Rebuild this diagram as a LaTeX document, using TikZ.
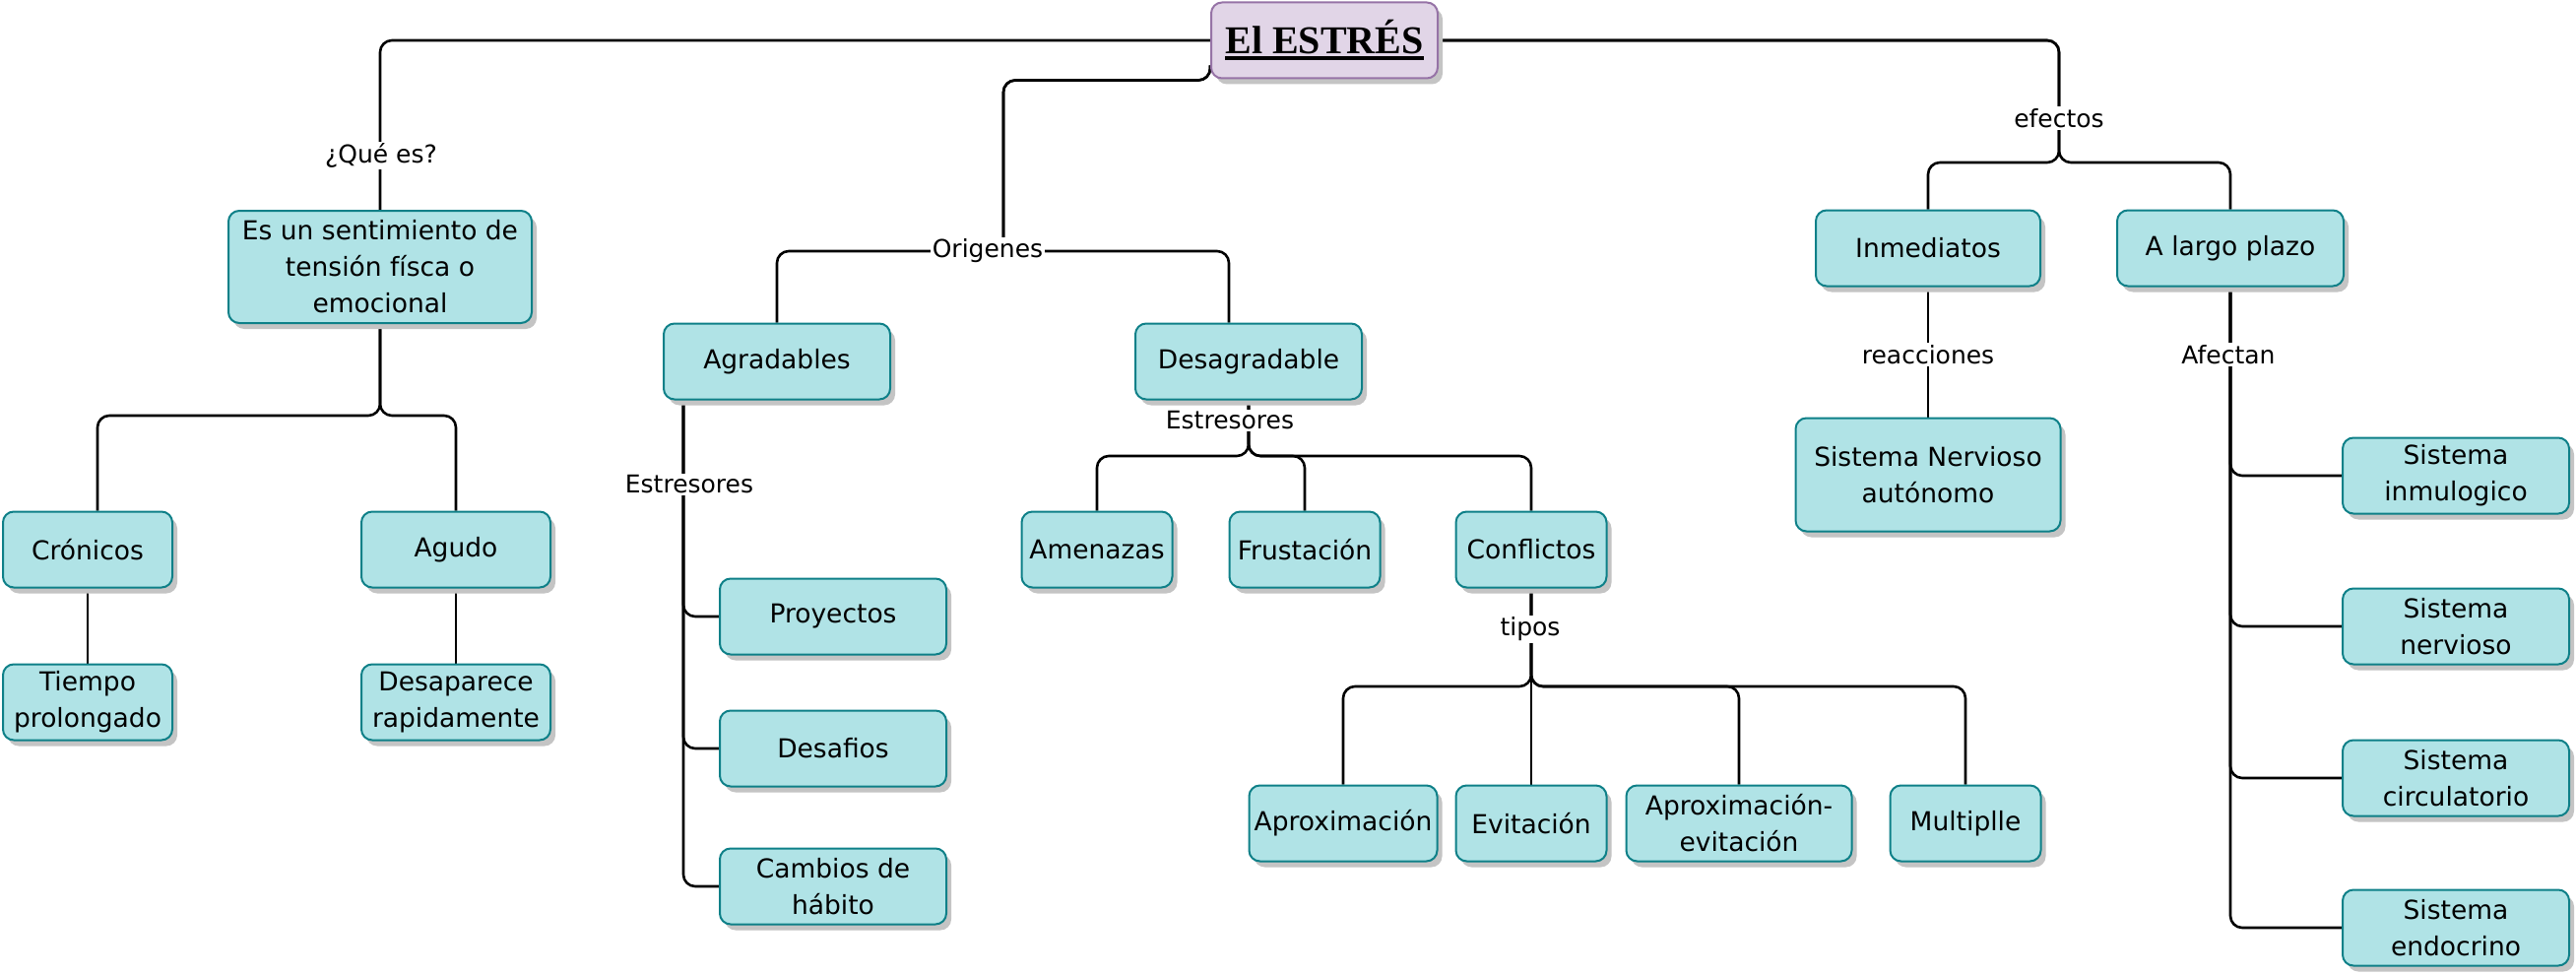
\documentclass[tikz,border=0pt]{standalone}
\usepackage{fontspec}
\setmainfont{DejaVu Sans}
\newfontfamily\rootfont{Liberation Serif}
\usetikzlibrary{shadows}
\definecolor{tealfill}{HTML}{B0E3E6}
\definecolor{tealdraw}{HTML}{0E8088}
\definecolor{purfill}{HTML}{E1D5E7}
\definecolor{purdraw}{HTML}{9673A6}
\definecolor{shadowgray}{HTML}{C4C4C4}
\pgfdeclarelayer{bg}
\pgfsetlayers{bg,main}
\tikzset{
  box/.style={draw=tealdraw, fill=tealfill, line width=2pt, rounded corners=11pt,
    align=center, inner sep=2pt, minimum height=77pt,
    font=\fontsize{26.5}{37}\selectfont,
    drop shadow={shadow xshift=5pt, shadow yshift=-6pt, fill=shadowgray, opacity=1}},
  lbl/.style={fill=white, inner sep=2pt, font=\fontsize{25}{30}\selectfont},
  conn/.style={line width=2.6pt, rounded corners=12pt},
}
\begin{document}
\begin{tikzpicture}[x=1pt,y=-1pt]
\useasboundingbox (0,0) rectangle (2616,990);
% root
\node[box, minimum width=230pt, draw=purdraw, fill=purfill] (root) at (1345,41)
  {\vtop{\hbox{\fontsize{40}{44}\rootfont\bfseries El ESTRÉS}\kern2pt\hrule height 4pt}};
% left branch
\node[lbl] (q) at (387,158) {¿Qué es?};
\node[box, minimum width=308pt, minimum height=114pt] (def) at (386,271) {Es un sentimiento de\\tensión físca o\\emocional};
\node[box, minimum width=172pt] (cron) at (89,558) {Crónicos};
\node[box, minimum width=192pt] (agudo) at (463,558) {Agudo};
\node[box, minimum width=172pt] (tiempo) at (89,713) {Tiempo\\prolongado};
\node[box, minimum width=192pt] (desap) at (463,713) {Desaparece\\rapidamente};
% origenes
\node[lbl] (orig) at (1003,255) {Origenes};
\node[box, minimum width=230pt] (agrad) at (789,367) {Agradables};
\node[box, minimum width=230pt] (desag) at (1268,367) {Desagradable};
\node[lbl] (estr1) at (700,492) {Estresores};
\node[box, minimum width=230pt] (proy) at (846,626) {Proyectos};
\node[box, minimum width=230pt] (desaf) at (846,760) {Desafios};
\node[box, minimum width=230pt] (camb) at (846,900) {Cambios de\\hábito};
\node[lbl] (estr2) at (1249,427) {Estresores};
\node[box, minimum width=153pt] (amen) at (1114,558) {Amenazas};
\node[box, minimum width=153pt] (frus) at (1325,558) {Frustación};
\node[box, minimum width=153pt] (conf) at (1555,558) {Conflictos};
\node[lbl] (tipos) at (1554,639) {tipos};
\node[box, minimum width=191pt] (aprox) at (1364,836) {Aproximación};
\node[box, minimum width=153pt] (evit) at (1555,836) {Evitación};
\node[box, minimum width=229pt] (apev) at (1766,836) {Aproximación-\\evitación};
\node[box, minimum width=153pt] (mult) at (1996,836) {Multiplle};
% efectos
\node[lbl] (efec) at (2091,120) {efectos};
\node[box, minimum width=228pt] (inmed) at (1958,252) {Inmediatos};
\node[box, minimum width=230pt] (largo) at (2265,252) {A largo plazo};
\node[lbl] (reac) at (1958,360) {reacciones};
\node[box, minimum width=269pt, minimum height=115pt] (sna) at (1958,482) {Sistema Nervioso\\autónomo};
\node[lbl] (afec) at (2263,360) {Afectan};
\node[box, minimum width=230pt] (sis1) at (2494,483) {Sistema\\inmulogico};
\node[box, minimum width=230pt] (sis2) at (2494,636) {Sistema\\nervioso};
\node[box, minimum width=230pt] (sis3) at (2494,790) {Sistema\\circulatorio};
\node[box, minimum width=230pt] (sis4) at (2494,942) {Sistema\\endocrino};
\begin{pgfonlayer}{bg}
\fill[white] (0,0) rectangle (2616,990);
\draw[conn] (root.west) -| (def.north);
\draw[conn] (def.south) -- (386,422) -| ([xshift=10pt]cron.north);
\draw[conn] (def.south) -- (386,422) -| (agudo.north);
\draw[conn] (cron.south) -- (tiempo.north);
\draw[conn] (agudo.south) -- (desap.north);
\draw[conn] ([yshift=14pt]root.south west) -- ([yshift=-1pt]root.south west) -| (1019,255) -| (agrad.north);
\draw[conn] ([yshift=14pt]root.south west) -- ([yshift=-1pt]root.south west) -| (1019,255) -| ([xshift=-20pt]desag.north);
\draw[conn] ([xshift=-95pt]agrad.south) |- (proy.west);
\draw[conn] ([xshift=-95pt]agrad.south) |- (desaf.west);
\draw[conn] ([xshift=-95pt]agrad.south) |- (camb.west);
\draw[conn] (desag.south) -- (1268,463) -| (amen.north);
\draw[conn] (desag.south) -- (1268,463) -| (frus.north);
\draw[conn] (desag.south) -- (1268,463) -| (conf.north);
\draw[conn] (conf.south) -- (1555,697) -| (aprox.north);
\draw[conn] (conf.south) -- (evit.north);
\draw[conn] (conf.south) -- (1555,697) -| (apev.north);
\draw[conn] (conf.south) -- (1555,697) -| (mult.north);
\draw[conn] (root.east) -| (2091,165) -| (inmed.north);
\draw[conn] (root.east) -| (2091,165) -| (largo.north);
\draw[conn] (inmed.south) -- (sna.north);
\draw[conn] (largo.south) |- (sis1.west);
\draw[conn] (largo.south) |- (sis2.west);
\draw[conn] (largo.south) |- (sis3.west);
\draw[conn] (largo.south) |- (sis4.west);
\end{pgfonlayer}
\end{tikzpicture}
\end{document}
